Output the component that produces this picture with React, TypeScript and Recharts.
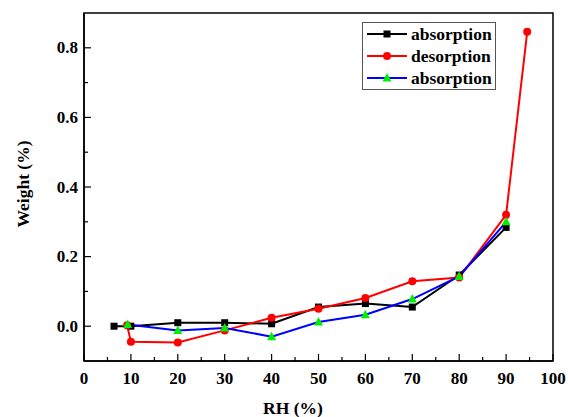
import React from 'react'
import { LineChart, Line, XAxis, YAxis, ReferenceArea, Legend } from 'recharts'

const absorptionRH = [6.4, 10, 20, 30, 40, 50, 60, 70, 80, 90]
const absorptionWeight = [0, 0, 0.01, 0.01, 0.007, 0.055, 0.065, 0.055, 0.147, 0.284]

const desorptionRH = [9.2, 10, 20, 30, 40, 50, 60, 70, 80, 90, 94.5]
const desorptionWeight = [0.003, -0.045, -0.047, -0.012, 0.024, 0.05, 0.081, 0.129, 0.14, 0.32, 0.846]

const absorption2RH = [9.3, 20, 30, 40, 50, 60, 70, 80, 90]
const absorption2Weight = [0.005, -0.012, -0.005, -0.03, 0.012, 0.033, 0.078, 0.143, 0.3]

const xTicks = [0, 5, 10, 15, 20, 25, 30, 35, 40, 45, 50, 55, 60, 65, 70, 75, 80, 85, 90, 95, 100]
const yTicks = [0, 0.1, 0.2, 0.3, 0.4, 0.5, 0.6, 0.7, 0.8]

const FONT = '"Liberation Serif", "Times New Roman", serif'

const toPoints = (xs: number[], ys: number[]) => xs.map((x, i) => ({ x, y: ys[i] }))

const series = [
  { name: 'absorption', color: '#000000', marker: 'square', data: toPoints(absorptionRH, absorptionWeight) },
  { name: 'desorption', color: '#ff0000', marker: 'circle', data: toPoints(desorptionRH, desorptionWeight) },
  { name: 'absorption', color: '#0000ff', marker: 'triangle', data: toPoints(absorption2RH, absorption2Weight) },
]

function Marker({ cx, cy, kind }: { cx: number; cy: number; kind: string }) {
  if (cx == null || cy == null) return null
  if (kind === 'square') return <rect x={cx - 3.5} y={cy - 3.5} width={7} height={7} fill="#000" />
  if (kind === 'circle') return <circle cx={cx} cy={cy} r={4} fill="#ff0000" />
  return <polygon points={`${cx},${cy - 5} ${cx - 4.5},${cy + 3.5} ${cx + 4.5},${cy + 3.5}`} fill="#00ee00" />
}

function XTick({ x, y, payload }: any) {
  const v = payload.value
  const major = v % 10 === 0
  return (
    <g>
      <line x1={x} y1={y} x2={x} y2={y - (major ? 7 : 4)} stroke="#000" strokeWidth={1.2} />
      {major && (
        <text x={x} y={y + 17} textAnchor="middle" dominantBaseline="central" fontFamily={FONT} fontWeight="bold" fontSize={17} fill="#000">
          {v}
        </text>
      )}
    </g>
  )
}

function YTick({ x, y, payload }: any) {
  const v = payload.value
  const major = Math.round(v * 10) % 2 === 0
  return (
    <g>
      <line x1={x} y1={y} x2={x + (major ? 7 : 4)} y2={y} stroke="#000" strokeWidth={1.2} />
      {major && (
        <text x={x - 6} y={y} textAnchor="end" dominantBaseline="central" fontFamily={FONT} fontWeight="bold" fontSize={17} fill="#000">
          {v.toFixed(1)}
        </text>
      )}
    </g>
  )
}

function LegendBox() {
  return (
    <div style={{ border: '1px solid #555', background: '#fff', width: 134, padding: 0, boxSizing: 'border-box' }}>
      {series.map((s, i) => (
        <div key={i} style={{ display: 'flex', alignItems: 'center', height: 22 }}>
          <svg width={48} height={22} style={{ flex: 'none' }}>
            <line x1={4} y1={11} x2={44} y2={11} stroke={s.color} strokeWidth={2} />
            <Marker cx={24} cy={11} kind={s.marker} />
          </svg>
          <span style={{ fontFamily: FONT, fontWeight: 'bold', fontSize: 17.5, color: '#000', lineHeight: '22px' }}>{s.name}</span>
        </div>
      ))}
    </div>
  )
}

export default function App() {
  return (
    <div style={{ position: 'absolute', left: 0, top: 0, width: 568, height: 417, background: '#fff' }}>
      <LineChart width={568} height={417} margin={{ top: 13, right: 15, bottom: 0, left: 0 }}>
        <XAxis
          type="number"
          dataKey="x"
          domain={[0, 100]}
          ticks={xTicks}
          interval={0}
          height={56}
          tickSize={0}
          tickMargin={0}
          tickLine={false}
          axisLine={{ stroke: '#000', strokeWidth: 1.5 }}
          tick={<XTick />}
          allowDataOverflow
          label={{
            content: () => (
              <text x={293} y={408} textAnchor="middle" dominantBaseline="central" fontFamily={FONT} fontWeight="bold" fontSize={17.5} fill="#000">
                RH (%)
              </text>
            ),
          }}
        />
        <YAxis
          type="number"
          dataKey="y"
          domain={[-0.1, 0.9]}
          ticks={yTicks}
          interval={0}
          width={84}
          tickSize={0}
          tickMargin={0}
          tickLine={false}
          axisLine={{ stroke: '#000', strokeWidth: 1.5 }}
          tick={<YTick />}
          allowDataOverflow
          label={{
            content: () => (
              <text x={23} y={184} textAnchor="middle" dominantBaseline="central" fontFamily={FONT} fontWeight="bold" fontSize={17.5} fill="#000" transform="rotate(-90 23 184)">
                Weight (%)
              </text>
            ),
          }}
        />
        <ReferenceArea x1={0} x2={100} y1={-0.1} y2={0.9} fill="none" stroke="#000" strokeWidth={1.5} />
        {series.map((s, i) => (
          <Line
            key={i}
            data={s.data}
            dataKey="y"
            name={s.name}
            stroke={s.color}
            strokeWidth={2}
            dot={(p: any) => <Marker key={`${i}-${p.index}`} cx={p.cx} cy={p.cy} kind={s.marker} />}
            activeDot={false}
            isAnimationActive={false}
          />
        ))}
        <Legend
          layout="vertical"
          align="center"
          verticalAlign="middle"
          content={() => <LegendBox />}
          wrapperStyle={{ position: 'absolute', left: 362, top: 22, width: 134 }}
        />
      </LineChart>
    </div>
  )
}
